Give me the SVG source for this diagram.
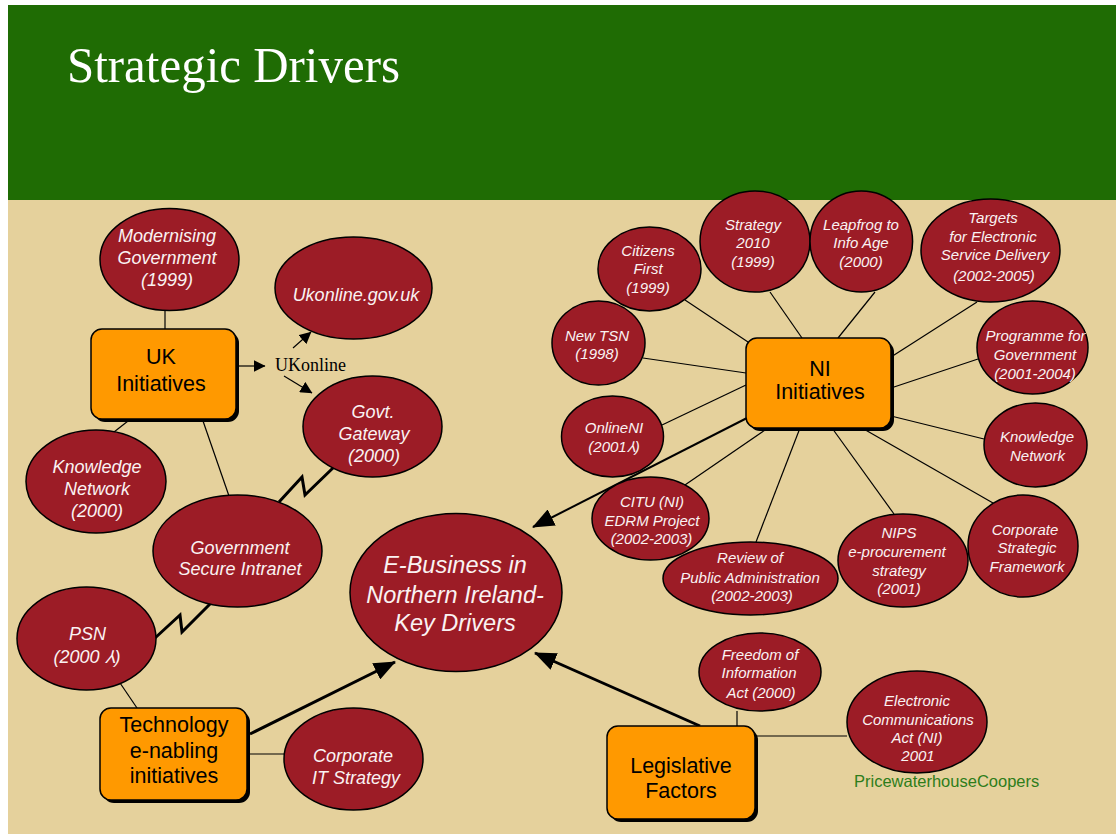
<svg xmlns="http://www.w3.org/2000/svg" width="1116" height="834" viewBox="0 0 1116 834">
<defs>
<style>
.bg{fill:#E5D19C}
.hdr{fill:#1F6C04}
.ell{fill:#9C1C26;stroke:#000;stroke-width:1.5}
.box{fill:#FF9900;stroke:#000;stroke-width:1.5}
.shadow{fill:#000}
.et{font-family:"Liberation Sans",Arial,sans-serif;font-style:italic;fill:#FAF2F2;text-anchor:middle}
.uk{font-size:18px}
.ni{font-size:15px}
.bt{font-family:"Liberation Sans",Arial,sans-serif;font-size:21.5px;fill:#000;text-anchor:middle}
.thin{stroke:#000;stroke-width:1.2;fill:none}
.thick{stroke:#000;stroke-width:3;fill:none}
.mid{stroke:#000;stroke-width:2;fill:none}
</style>
<marker id="ah" viewBox="0 0 22 18" refX="21" refY="9" markerWidth="22" markerHeight="18" markerUnits="userSpaceOnUse" orient="auto">
<path d="M0,0 L22,9 L0,18 z" fill="#000"/>
</marker>
<marker id="sm" viewBox="0 0 12 12" refX="11.5" refY="6" markerWidth="12" markerHeight="12" markerUnits="userSpaceOnUse" orient="auto">
<path d="M0,0 L12,6 L0,12 z" fill="#000"/>
</marker>
</defs>
<rect x="0" y="0" width="1116" height="834" fill="#FFFFFF"/>
<rect class="bg" x="8" y="200" width="1108" height="634"/>
<rect class="hdr" x="8" y="5" width="1108" height="195"/>
<text x="67" y="82" font-family="'Liberation Serif','Times New Roman',serif" font-size="50" fill="#FFFFFF" textLength="333" lengthAdjust="spacingAndGlyphs">Strategic Drivers</text>

<g id="connectors">
<line class="thin" x1="165" y1="311" x2="165" y2="329"/>
<line class="thin" x1="236" y1="366" x2="265" y2="366" marker-end="url(#sm)"/>
<line class="thin" x1="293" y1="348" x2="311" y2="332" marker-end="url(#sm)"/>
<line class="thin" x1="284" y1="376" x2="312" y2="393" marker-end="url(#sm)"/>
<line class="thin" x1="128" y1="421" x2="114" y2="432"/>
<line class="thin" x1="203" y1="421" x2="229" y2="496"/>
<polyline class="thick" points="334,467 305,495 302,477 279,502"/>
<polyline class="thick" points="155,638 180,615 182,632 211,603"/>
<line class="thin" x1="118" y1="680" x2="137" y2="708"/>
<line class="thick" x1="250" y1="734" x2="395" y2="662" marker-end="url(#ah)"/>
<line class="thin" x1="247" y1="754" x2="284" y2="754"/>
<line class="thick" x1="700" y1="726" x2="535" y2="653" marker-end="url(#ah)"/>
<line class="mid" x1="747" y1="418" x2="533" y2="527" marker-end="url(#ah)"/>
<line class="thin" x1="685" y1="300" x2="748" y2="342"/>
<line class="thin" x1="770" y1="292" x2="802" y2="338"/>
<line class="thin" x1="875" y1="292" x2="838" y2="338"/>
<line class="thin" x1="977" y1="302" x2="891" y2="357"/>
<line class="thin" x1="978" y1="359" x2="891" y2="388"/>
<line class="thin" x1="643" y1="358" x2="746" y2="373"/>
<line class="thin" x1="662" y1="425" x2="746" y2="385"/>
<line class="thin" x1="891" y1="416" x2="984" y2="439"/>
<line class="thin" x1="768" y1="428" x2="682" y2="487"/>
<line class="thin" x1="800" y1="428" x2="756" y2="542"/>
<line class="thin" x1="832" y1="428" x2="894" y2="514"/>
<line class="thin" x1="862" y1="428" x2="993" y2="503"/>
<line class="thin" x1="737" y1="711" x2="737" y2="726"/>
<line class="thin" x1="755" y1="736" x2="847" y2="736"/>
</g>

<g id="uk-initiatives">
<rect class="shadow" x="94" y="332" width="145" height="90" rx="11"/>
<rect class="box" x="91" y="329" width="145" height="90" rx="11"/>
<text class="bt" x="161" y="364">UK</text>
<text class="bt" x="161" y="391">Initiatives</text>
</g>
<g id="ukonline-label">
<text x="275" y="371" font-family="'Liberation Serif','Times New Roman',serif" font-size="18" fill="#000">UKonline</text>
</g>
<g id="modernising">
<ellipse class="ell" cx="169.5" cy="259.5" rx="69.5" ry="51"/>
<text class="et uk" x="167" y="242">Modernising</text>
<text class="et uk" x="167" y="264">Government</text>
<text class="et uk" x="167" y="286">(1999)</text>
</g>
<g id="ukonline-gov">
<ellipse class="ell" cx="353.5" cy="288" rx="78.5" ry="51"/>
<text class="et uk" x="356" y="301">Ukonline.gov.uk</text>
</g>
<g id="govt-gateway">
<ellipse class="ell" cx="372.5" cy="426.5" rx="69.5" ry="50.5"/>
<text class="et uk" x="373" y="418">Govt.</text>
<text class="et uk" x="374" y="440">Gateway</text>
<text class="et uk" x="374" y="462">(2000)</text>
</g>
<g id="knowledge-uk">
<ellipse class="ell" cx="96" cy="481.5" rx="70" ry="51.5"/>
<text class="et uk" x="97" y="473">Knowledge</text>
<text class="et uk" x="97" y="495">Network</text>
<text class="et uk" x="97" y="517">(2000)</text>
</g>
<g id="gsi">
<ellipse class="ell" cx="237.5" cy="551" rx="84.5" ry="56"/>
<text class="et uk" x="240" y="554">Government</text>
<text class="et uk" x="240" y="575">Secure Intranet</text>
</g>
<g id="psn">
<ellipse class="ell" cx="86.5" cy="638.5" rx="69.5" ry="51.5"/>
<text class="et uk" x="87.5" y="640">PSN</text>
<text class="et uk" x="87" y="663">(2000 ⅄)</text>
</g>
<g id="technology">
<rect class="shadow" x="103" y="711" width="147" height="92" rx="11"/>
<rect class="box" x="100" y="708" width="147" height="92" rx="11"/>
<text class="bt" x="174" y="732">Technology</text>
<text class="bt" x="174" y="758">e-nabling</text>
<text class="bt" x="174" y="782.5">initiatives</text>
</g>
<g id="corporate-it">
<ellipse class="ell" cx="353.5" cy="759" rx="69.5" ry="51"/>
<text class="et uk" x="353" y="762">Corporate</text>
<text class="et uk" x="356" y="784">IT Strategy</text>
</g>
<g id="ebusiness">
<ellipse class="ell" cx="456" cy="592.5" rx="106" ry="79"/>
<text class="et" font-size="23.5" x="455" y="573">E-Business in</text>
<text class="et" font-size="23.5" x="455" y="603">Northern Ireland-</text>
<text class="et" font-size="23.5" x="455" y="631">Key Drivers</text>
</g>

<g id="ni-initiatives">
<rect class="shadow" x="749" y="341" width="145" height="90" rx="11"/>
<rect class="box" x="746" y="338" width="145" height="90" rx="11"/>
<text class="bt" x="820" y="376">NI</text>
<text class="bt" x="820" y="399">Initiatives</text>
</g>
<g id="citizens-first">
<ellipse class="ell" cx="649.5" cy="269" rx="51.5" ry="42"/>
<text class="et ni" x="648" y="256">Citizens</text>
<text class="et ni" x="648" y="274">First</text>
<text class="et ni" x="648" y="293">(1999)</text>
</g>
<g id="strategy-2010">
<ellipse class="ell" cx="755" cy="241.5" rx="55" ry="50.5"/>
<text class="et ni" x="753" y="230">Strategy</text>
<text class="et ni" x="753" y="248">2010</text>
<text class="et ni" x="753" y="267">(1999)</text>
</g>
<g id="leapfrog">
<ellipse class="ell" cx="861.3" cy="241.5" rx="51.3" ry="50.5"/>
<text class="et ni" x="861" y="230">Leapfrog to</text>
<text class="et ni" x="861" y="248">Info Age</text>
<text class="et ni" x="861" y="267">(2000)</text>
</g>
<g id="targets">
<ellipse class="ell" cx="990.5" cy="250.5" rx="69.5" ry="51.5"/>
<text class="et ni" x="993" y="223">Targets</text>
<text class="et ni" x="993" y="242">for Electronic</text>
<text class="et ni" x="995" y="260">Service Delivery</text>
<text class="et ni" x="994" y="281">(2002-2005)</text>
</g>
<g id="programme">
<ellipse class="ell" cx="1032.5" cy="347.5" rx="55.5" ry="46.5"/>
<text class="et ni" x="1035.5" y="341">Programme for</text>
<text class="et ni" x="1035" y="360">Government</text>
<text class="et ni" x="1035" y="379">(2001-2004)</text>
</g>
<g id="new-tsn">
<ellipse class="ell" cx="598.5" cy="343" rx="46.5" ry="42"/>
<text class="et ni" x="597" y="341">New TSN</text>
<text class="et ni" x="597" y="359">(1998)</text>
</g>
<g id="onlineni">
<ellipse class="ell" cx="612.5" cy="436.5" rx="51" ry="40.5"/>
<text class="et ni" x="614" y="433">OnlineNI</text>
<text class="et ni" x="614" y="452">(2001⅄)</text>
</g>
<g id="knowledge-ni">
<ellipse class="ell" cx="1035.5" cy="445" rx="51.5" ry="42"/>
<text class="et ni" x="1037" y="442">Knowledge</text>
<text class="et ni" x="1037.5" y="461">Network</text>
</g>
<g id="citu">
<ellipse class="ell" cx="650.5" cy="518.5" rx="58.5" ry="41.5"/>
<text class="et ni" x="652" y="507">CITU (NI)</text>
<text class="et ni" x="652" y="526">EDRM Project</text>
<text class="et ni" x="651.5" y="544">(2002-2003)</text>
</g>
<g id="review">
<ellipse class="ell" cx="750.5" cy="578.5" rx="87.5" ry="36.5"/>
<text class="et ni" x="750" y="563">Review of</text>
<text class="et ni" x="750" y="583">Public Administration</text>
<text class="et ni" x="752" y="601">(2002-2003)</text>
</g>
<g id="nips">
<ellipse class="ell" cx="903" cy="560.5" rx="65" ry="46.5"/>
<text class="et ni" x="899" y="538">NIPS</text>
<text class="et ni" x="897" y="557">e-procurement</text>
<text class="et ni" x="899" y="576">strategy</text>
<text class="et ni" x="899" y="594">(2001)</text>
</g>
<g id="corporate-strategic">
<ellipse class="ell" cx="1023" cy="546" rx="55" ry="51"/>
<text class="et ni" x="1025" y="535">Corporate</text>
<text class="et ni" x="1027" y="553">Strategic</text>
<text class="et ni" x="1027" y="572">Framework</text>
</g>

<g id="legislative">
<rect class="shadow" x="610" y="729" width="148" height="93" rx="11"/>
<rect class="box" x="607" y="726" width="148" height="93" rx="11"/>
<text class="bt" x="681" y="772.5">Legislative</text>
<text class="bt" x="681" y="797.5">Factors</text>
</g>
<g id="freedom">
<ellipse class="ell" cx="760" cy="672" rx="61" ry="39"/>
<text class="et ni" x="760" y="660">Freedom of</text>
<text class="et ni" x="759" y="678">Information</text>
<text class="et ni" x="761" y="698">Act (2000)</text>
</g>
<g id="electronic">
<ellipse class="ell" cx="917" cy="722" rx="70" ry="51"/>
<text class="et ni" x="917" y="706">Electronic</text>
<text class="et ni" x="918" y="725">Communications</text>
<text class="et ni" x="917" y="743">Act (NI)</text>
<text class="et ni" x="918" y="761">2001</text>
</g>
<g id="pwc">
<text x="854" y="787" font-family="'Liberation Sans',Arial,sans-serif" font-size="16.5" fill="#2E7D1A">PricewaterhouseCoopers</text>
</g>
</svg>
